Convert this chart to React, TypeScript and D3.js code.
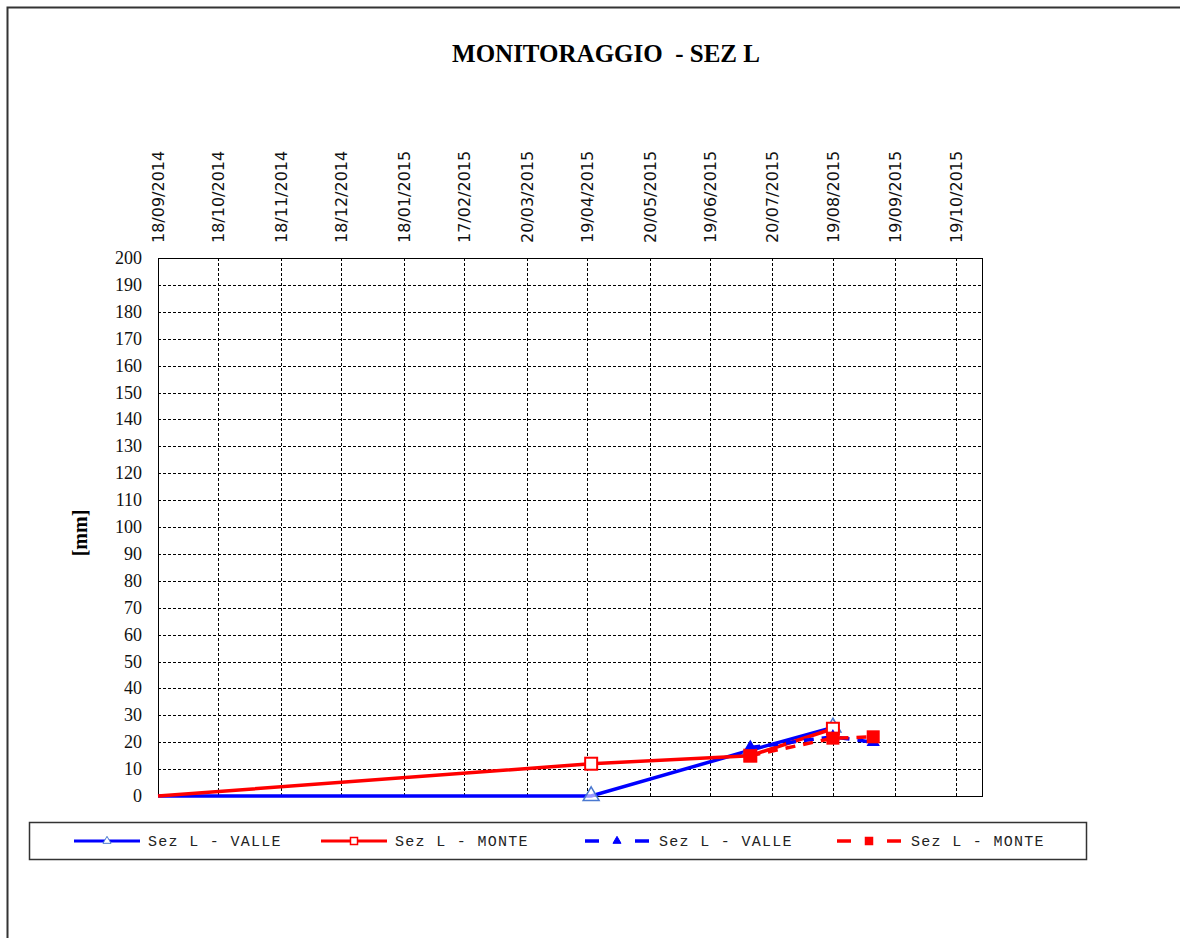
import React, { useRef, useEffect } from "react";
import * as d3 from "d3";

// solid series (first readings)
const valleDates = ["2014-09-18", "2015-04-21", "2015-07-09", "2015-08-19"];
const valleValues = [0, 0, 17, 25.5];
const monteDates = ["2014-09-18", "2015-04-21", "2015-07-09", "2015-08-19"];
const monteValues = [0, 12, 15, 25];

// dashed series (second readings)
const valle2Dates = ["2015-07-09", "2015-08-19", "2015-09-08"];
const valle2Values = [18, 22, 20];
const monte2Dates = ["2015-07-09", "2015-08-19", "2015-09-08"];
const monte2Values = [15, 21.5, 22];

const tickLabels = [
  "18/09/2014", "18/10/2014", "18/11/2014", "18/12/2014", "18/01/2015",
  "17/02/2015", "20/03/2015", "19/04/2015", "20/05/2015", "19/06/2015",
  "20/07/2015", "19/08/2015", "19/09/2015", "19/10/2015",
];
const yTicks = d3.range(0, 201, 10);

const seriesNames = ["Sez L - VALLE", "Sez L - MONTE", "Sez L - VALLE", "Sez L - MONTE"];

const parseIso = d3.timeParse("%Y-%m-%d");
const parseLabel = d3.timeParse("%d/%m/%Y");

const App = () => {
  const svgRef = useRef(null);

  useEffect(() => {
    const svg = d3.select(svgRef.current);
    svg.selectAll("*").remove();

    const margin = { top: 258, left: 158 };
    const innerWidth = 824;
    const innerHeight = 538;

    const x = d3
      .scaleTime()
      .domain([parseIso("2014-09-18"), parseIso("2015-11-01")])
      .range([0, innerWidth]);
    const y = d3.scaleLinear().domain([0, 200]).range([innerHeight, 0]);

    // outer frame
    svg.append("path")
      .attr("d", "M7.5,938 V7.5 H1180")
      .attr("fill", "none")
      .attr("stroke", "#333")
      .attr("stroke-width", 2);

    svg.append("text")
      .attr("x", 606)
      .attr("y", 62)
      .attr("text-anchor", "middle")
      .attr("font-family", "Liberation Serif, Times New Roman, serif")
      .attr("font-weight", "bold")
      .attr("font-size", 25)
      .style("white-space", "pre")
      .text("MONITORAGGIO  - SEZ L");

    const g = svg.append("g").attr("transform", `translate(${margin.left},${margin.top})`);

    const tickDates = tickLabels.map((t) => parseLabel(t));

    // grid
    g.selectAll(".vgrid")
      .data(tickDates.slice(1))
      .enter()
      .append("line")
      .attr("x1", (d) => Math.round(x(d)) + 0.5)
      .attr("x2", (d) => Math.round(x(d)) + 0.5)
      .attr("y1", 0)
      .attr("y2", innerHeight)
      .attr("stroke", "#000")
      .attr("stroke-width", 1)
      .attr("stroke-dasharray", "3,2");

    g.selectAll(".hgrid")
      .data(yTicks.slice(1, -1))
      .enter()
      .append("line")
      .attr("x1", 0)
      .attr("x2", innerWidth)
      .attr("y1", (d) => Math.round(y(d)) + 0.5)
      .attr("y2", (d) => Math.round(y(d)) + 0.5)
      .attr("stroke", "#000")
      .attr("stroke-width", 1)
      .attr("stroke-dasharray", "3,2");

    g.append("rect")
      .attr("x", 0.5)
      .attr("y", 0.5)
      .attr("width", innerWidth)
      .attr("height", innerHeight)
      .attr("fill", "none")
      .attr("stroke", "#000")
      .attr("stroke-width", 1);

    // y tick labels
    g.selectAll(".ylab")
      .data(yTicks)
      .enter()
      .append("text")
      .attr("x", -16)
      .attr("y", (d) => y(d) + 6)
      .attr("text-anchor", "end")
      .attr("font-family", "Liberation Serif, Times New Roman, serif")
      .attr("font-size", 18)
      .attr("fill", "#111")
      .text((d) => d);

    // x tick labels (rotated)
    g.selectAll(".xlab")
      .data(tickDates)
      .enter()
      .append("text")
      .attr("transform", (d) => `translate(${x(d) + 6},-15) rotate(-90)`)
      .attr("text-anchor", "start")
      .attr("font-family", "DejaVu Sans, sans-serif")
      .attr("font-size", 16)
      .attr("fill", "#111")
      .text((d, i) => tickLabels[i]);

    svg.append("text")
      .attr("transform", `translate(87,533) rotate(-90)`)
      .attr("text-anchor", "middle")
      .attr("font-family", "Liberation Serif, Times New Roman, serif")
      .attr("font-weight", "bold")
      .attr("font-size", 20)
      .text("[mm]");

    const line = d3
      .line()
      .x((d) => x(d.date))
      .y((d) => y(d.value));

    const toPoints = (dates, values) =>
      dates.map((d, i) => ({ date: parseIso(d), value: values[i] }));

    const series = [
      { pts: toPoints(valleDates, valleValues), color: "#0000ff", dash: null, marker: "tri", filled: false },
      { pts: toPoints(monteDates, monteValues), color: "#ff0000", dash: null, marker: "sq", filled: false },
      { pts: toPoints(valle2Dates, valle2Values), color: "#0000ff", dash: "10,8", marker: "tri", filled: true },
      { pts: toPoints(monte2Dates, monte2Values), color: "#ff0000", dash: "10,8", marker: "sq", filled: true },
    ];

    const triangle = d3.symbol().type(d3.symbolTriangle);

    series.forEach((s) => {
      g.append("path")
        .datum(s.pts)
        .attr("fill", "none")
        .attr("stroke", s.color)
        .attr("stroke-width", 3.5)
        .attr("stroke-dasharray", s.dash)
        .attr("d", line);

      const markPts = s.filled ? s.pts : s.pts.slice(1);
      markPts.forEach((p) => {
        const cx = x(p.date);
        const cy = y(p.value);
        if (s.marker === "sq") {
          const size = s.filled ? 11 : 12;
          g.append("rect")
            .attr("x", cx - size / 2)
            .attr("y", cy - size / 2)
            .attr("width", size)
            .attr("height", size)
            .attr("fill", s.filled ? s.color : "#fff")
            .attr("stroke", s.color)
            .attr("stroke-width", 2);
        } else {
          g.append("path")
            .attr("transform", `translate(${cx},${cy})`)
            .attr("d", triangle.size(s.filled ? 50 : 110)())
            .attr("fill", s.filled ? s.color : "#fff")
            .attr("fill-opacity", s.filled ? 1 : 0.6)
            .attr("stroke", s.filled ? s.color : "#4a78d0")
            .attr("stroke-width", 1.5);
        }
      });
    });

    // legend
    const lg = svg.append("g");
    lg.append("rect")
      .attr("x", 29.5)
      .attr("y", 822.5)
      .attr("width", 1057)
      .attr("height", 37)
      .attr("fill", "#fff")
      .attr("stroke", "#333")
      .attr("stroke-width", 1.5);

    const legendX = [74, 321, 585, 837];
    const ly = 841;
    series.forEach((s, i) => {
      const x0 = legendX[i];
      const item = lg.append("g").attr("transform", `translate(${x0},${ly})`);
      if (s.dash) {
        [0, 50].forEach((dx) =>
          item.append("line")
            .attr("x1", dx).attr("x2", dx + 14)
            .attr("y1", 0).attr("y2", 0)
            .attr("stroke", s.color).attr("stroke-width", 3.5)
        );
      } else {
        item.append("line")
          .attr("x1", 0).attr("x2", 66)
          .attr("y1", 0).attr("y2", 0)
          .attr("stroke", s.color).attr("stroke-width", 3);
      }
      const mx = s.dash ? 32 : 33;
      if (s.marker === "sq") {
        const sz = 7;
        item.append("rect")
          .attr("x", mx - sz / 2).attr("y", -sz / 2)
          .attr("width", sz).attr("height", sz)
          .attr("fill", s.filled ? s.color : "#fff")
          .attr("stroke", s.color).attr("stroke-width", 1.5);
      } else {
        item.append("path")
          .attr("transform", `translate(${mx},0)`)
          .attr("d", triangle.size(28)())
          .attr("fill", s.filled ? s.color : "#fff")
          .attr("stroke", s.filled ? s.color : "#4a78d0")
          .attr("stroke-width", 1);
      }
      item.append("text")
        .attr("x", s.dash ? 74 : 74)
        .attr("y", 5)
        .attr("font-family", "Liberation Mono, Courier New, monospace")
        .attr("font-size", 15)
        .attr("letter-spacing", 1.3)
        .attr("fill", "#222")
        .style("white-space", "pre")
        .text(seriesNames[i]);
    });
  }, []);

  return (
    <svg
      ref={svgRef}
      width={1180}
      height={938}
      style={{ position: "absolute", left: 0, top: 0, background: "#fff" }}
    ></svg>
  );
};

export default App;
